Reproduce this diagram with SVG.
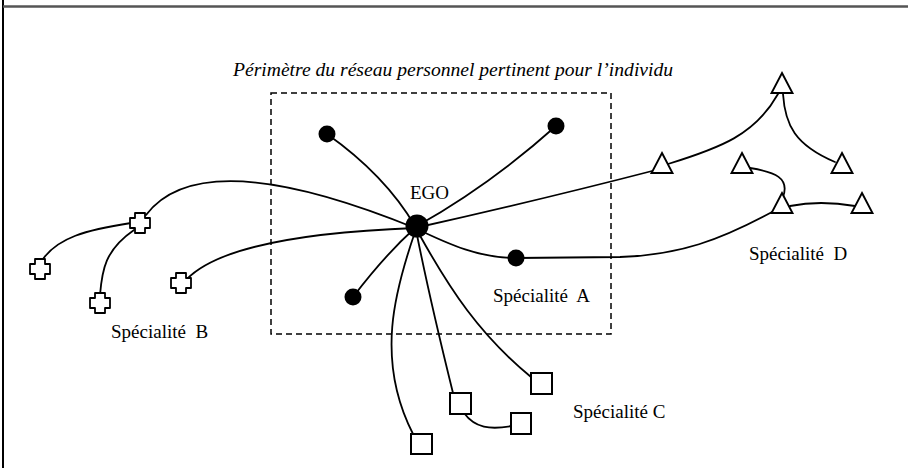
<svg xmlns="http://www.w3.org/2000/svg" width="908" height="468" viewBox="0 0 908 468">
<style>
.t{font-family:"Liberation Serif","Times New Roman",serif;font-size:19px;fill:#000;white-space:pre}
.ti{font-style:italic;font-size:19.6px}
.c{fill:none;stroke:#000;stroke-width:1.8;stroke-linecap:round}
.dot{fill:#000}
.sq{fill:#fff;stroke:#000;stroke-width:2}
.cr{fill:#fff;stroke:#000;stroke-width:1.8;stroke-linejoin:round}
.tr{fill:#fff;stroke:#000;stroke-width:1.9;stroke-linejoin:miter}
</style>
<defs>
<path id="cross" d="M-5,-10 H5 V-5 H10 V5 H5 V10 H-5 V5 H-10 V-5 H-5 Z"/>
<path id="tri" d="M0,0 L10.5,20 L-10.5,20 Z"/>
</defs>
<rect width="908" height="468" fill="#fff"/>
<g id="frame">
<line x1="3" y1="0" x2="3" y2="468" stroke="#000" stroke-width="2"/>
<line x1="3" y1="6.5" x2="908" y2="6.5" stroke="#555" stroke-width="2.5"/>
</g>
<g id="perimeter">
<rect x="271" y="93" width="340" height="241" fill="none" stroke="#000" stroke-width="1.5" stroke-dasharray="6,4"/>
<text class="t ti" x="233" y="76">Périmètre du réseau personnel pertinent pour l’individu</text>
</g>
<g id="connectors">
<path class="c" d="M327,134 Q385,175 415,226"/>
<path class="c" d="M417,226 Q490,185 556,126"/>
<path class="c" d="M415,228 Q385,255 353,297"/>
<path class="c" d="M415,228 C450,245 480,258 516,258"/>
<path class="c" d="M516,258 L620,257 C680,255 720,240 772,212"/>
<path class="c" d="M415,228 Q540,200 656,170"/>
<path class="c" d="M668,164 C720,148 755,135 778,94"/>
<path class="c" d="M783,94 C785,125 795,145 835,162"/>
<path class="c" d="M750,168 C775,172 790,178 783,197"/>
<path class="c" d="M790,206 Q820,200 855,206"/>
<path class="c" d="M146,215 C180,170 260,165 415,228"/>
<path class="c" d="M187,279 Q230,235 415,228"/>
<path class="c" d="M131,223 C85,230 58,238 43,259"/>
<path class="c" d="M134,230 C105,250 102,270 100,295"/>
<path class="c" d="M415,232 C395,290 375,360 413,434"/>
<path class="c" d="M417,235 Q430,300 453,393"/>
<path class="c" d="M418,232 C450,290 480,335 531,377"/>
<path class="c" d="M464,413 C475,428 490,430 512,426"/>
</g>
<g id="ego">
<circle class="dot" cx="417" cy="226" r="11.5"/>
<text class="t" x="410" y="199">EGO</text>
</g>
<g id="specA">
<circle id="a1" class="dot" cx="327" cy="134" r="8.5"/>
<circle id="a2" class="dot" cx="556" cy="126" r="8.5"/>
<circle id="a3" class="dot" cx="353" cy="297" r="8.5"/>
<circle id="a4" class="dot" cx="516" cy="258" r="8.5"/>
<text class="t" x="493" y="302">Spécialité  A</text>
</g>
<g id="specB">
<use id="b1" class="cr" href="#cross" x="140" y="223"/>
<use id="b2" class="cr" href="#cross" x="40" y="269"/>
<use id="b3" class="cr" href="#cross" x="100" y="303"/>
<use id="b4" class="cr" href="#cross" x="181" y="283"/>
<text class="t" x="111" y="338">Spécialité  B</text>
</g>
<g id="specC">
<rect id="c1" class="sq" x="531" y="373" width="21" height="21"/>
<rect id="c2" class="sq" x="450" y="393" width="21" height="21"/>
<rect id="c3" class="sq" x="511" y="413" width="20" height="21"/>
<rect id="c4" class="sq" x="411" y="434" width="21" height="20"/>
<text class="t" x="573" y="418">Spécialité C</text>
</g>
<g id="specD">
<use id="d1" class="tr" href="#tri" x="782" y="73"/>
<use id="d2" class="tr" href="#tri" x="662" y="153"/>
<use id="d3" class="tr" href="#tri" x="742" y="153"/>
<use id="d4" class="tr" href="#tri" x="842" y="153"/>
<use id="d5" class="tr" href="#tri" x="782" y="193"/>
<use id="d6" class="tr" href="#tri" x="862" y="193"/>
<text class="t" x="749" y="260">Spécialité  D</text>
</g>
</svg>
